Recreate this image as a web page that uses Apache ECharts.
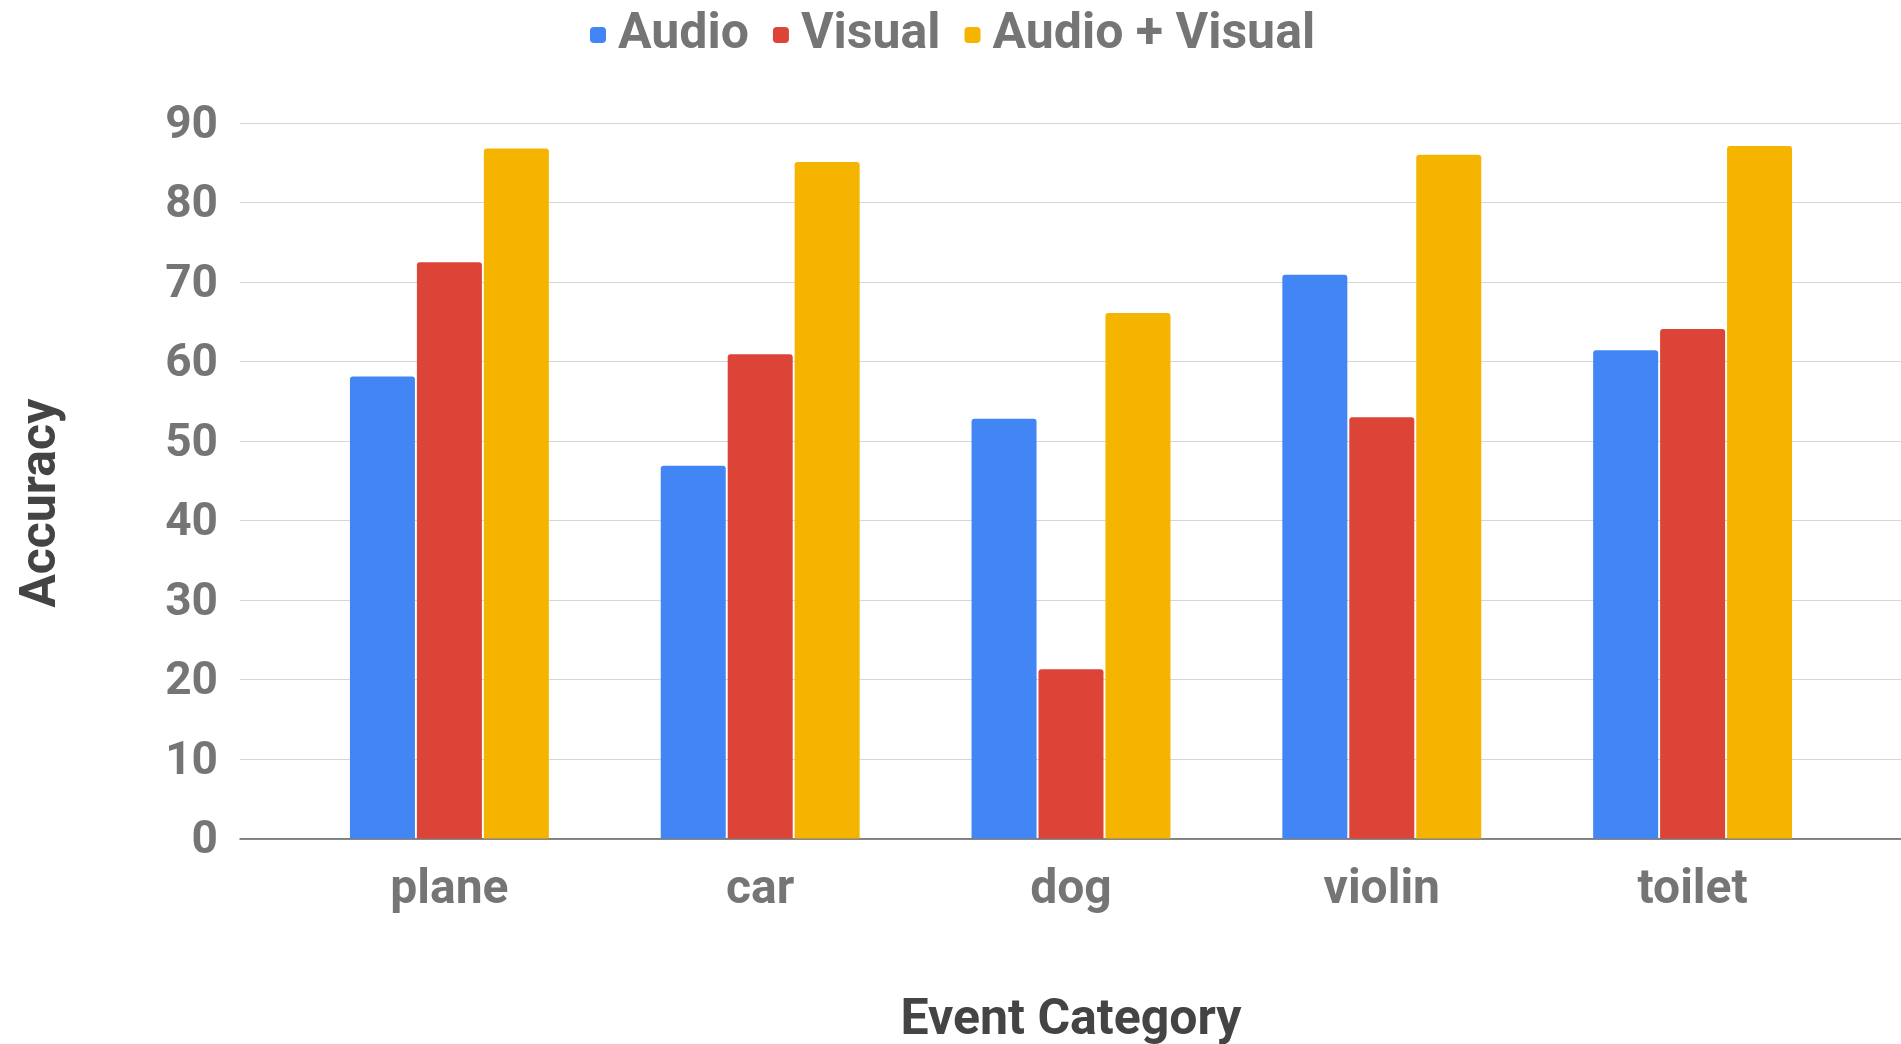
<!DOCTYPE html>
<html>
<head>
<meta charset="utf-8">
<title>Accuracy by Event Category</title>
<script src="https://cdn.jsdelivr.net/npm/echarts@6/dist/echarts.min.js"></script>
<style>
  html, body { margin: 0; padding: 0; background: #ffffff; }
  #chart { width: 1901px; height: 1044px; }
</style>
</head>
<body>
<div id="chart"></div>
<script>
// Event categories and per-modality accuracy (%)
const categories = ['plane', 'car', 'dog', 'violin', 'toilet'];
const audio = [58.1, 46.9, 52.8, 70.9, 61.4];
const visual = [72.5, 60.9, 21.3, 53.0, 64.1];
const audioVisual = [86.8, 85.1, 66.1, 86.0, 87.1];
const seriesNames = ['Audio', 'Visual', 'Audio + Visual'];
const yTicks = { min: 0, max: 90, interval: 10 };

const colors = ['#4285F4', '#DB4437', '#F4B400'];
const FONT = 'Roboto';
const labelGray = '#757575';
const titleGray = '#444444';

const gridTop = 123;
const gridBottom = 205.5;

const chart = echarts.init(document.getElementById('chart'), null, { renderer: 'canvas' });

const barStyle = (i) => ({
  color: colors[i],
  borderRadius: [3, 3, 0, 0]
});

chart.setOption({
  backgroundColor: '#ffffff',
  animation: false,
  color: colors,
  textStyle: { fontFamily: FONT },
  legend: {
    data: seriesNames,
    top: 3,
    left: 585,
    itemWidth: 16,
    itemHeight: 16,
    itemGap: 24,
    icon: 'roundRect',
    textStyle: {
      fontFamily: FONT,
      fontWeight: 'bold',
      fontSize: 50,
      color: labelGray,
      lineHeight: 54,
      padding: [0, 0, 0, 7]
    }
  },
  grid: [
    // full-width grid carrying the value gridlines and the baseline
    { left: 240, right: 0, top: gridTop, bottom: gridBottom,
      containLabel: false, outerBoundsMode: 'none' },
    // inner grid holding the category bands
    { left: 294, right: 53, top: gridTop, bottom: gridBottom,
      containLabel: false, outerBoundsMode: 'none' }
  ],
  xAxis: [
    {
      gridIndex: 0,
      type: 'value',
      min: 0,
      max: 1,
      axisLine: { show: true, lineStyle: { color: '#616161', width: 1.5 } },
      axisTick: { show: false },
      axisLabel: { show: false },
      splitLine: { show: false }
    },
    {
      gridIndex: 1,
      type: 'category',
      data: categories,
      axisLine: { show: false },
      axisTick: { show: false },
      axisLabel: {
        margin: 28,
        fontFamily: FONT,
        fontWeight: 'bold',
        fontSize: 48,
        color: labelGray
      },
      name: 'Event Category',
      nameLocation: 'middle',
      nameGap: 158,
      nameTextStyle: {
        fontFamily: FONT,
        fontWeight: 'bold',
        fontSize: 50,
        color: titleGray
      }
    }
  ],
  yAxis: [
    {
      gridIndex: 0,
      type: 'value',
      min: yTicks.min,
      max: yTicks.max,
      interval: yTicks.interval,
      axisLine: { show: false },
      axisTick: { show: false },
      axisLabel: {
        margin: 22,
        fontFamily: FONT,
        fontWeight: 'bold',
        fontSize: 46,
        color: labelGray,
        // labels sit slightly below their gridline
        verticalAlign: 'top',
        lineHeight: 6
      },
      splitLine: { show: true, lineStyle: { color: '#d6d6d6', width: 1.2 } },
      name: 'Accuracy',
      nameLocation: 'middle',
      nameRotate: 90,
      nameGap: 173,
      nameTextStyle: {
        fontFamily: FONT,
        fontWeight: 'bold',
        fontSize: 50,
        color: titleGray,
        padding: [0, 45, 0, 0]
      }
    },
    {
      gridIndex: 1,
      type: 'value',
      min: yTicks.min,
      max: yTicks.max,
      interval: yTicks.interval,
      show: false,
      splitLine: { show: false }
    }
  ],
  series: [
    { name: seriesNames[0], type: 'bar', xAxisIndex: 1, yAxisIndex: 1, data: audio,
      barWidth: 65, barGap: '3%', itemStyle: barStyle(0) },
    { name: seriesNames[1], type: 'bar', xAxisIndex: 1, yAxisIndex: 1, data: visual,
      barWidth: 65, barGap: '3%', itemStyle: barStyle(1) },
    { name: seriesNames[2], type: 'bar', xAxisIndex: 1, yAxisIndex: 1, data: audioVisual,
      barWidth: 65, barGap: '3%', itemStyle: barStyle(2) }
  ]
});
</script>
</body>
</html>
